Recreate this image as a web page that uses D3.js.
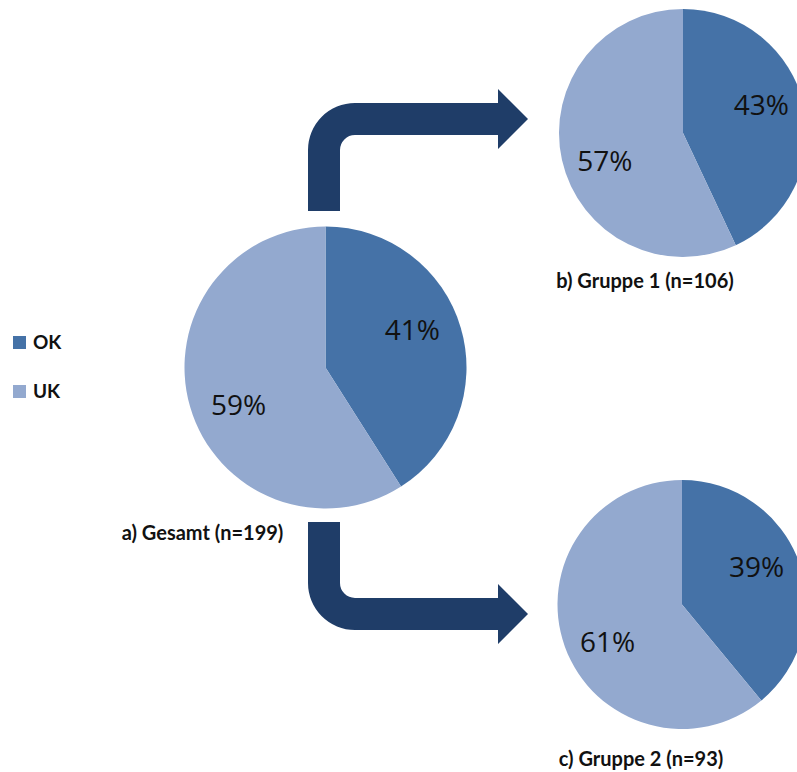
<!DOCTYPE html>
<html>
<head>
<meta charset="utf-8">
<script src="https://cdn.jsdelivr.net/npm/d3@7/dist/d3.min.js"></script>
<style>
  html, body { margin: 0; padding: 0; background: #ffffff; }
  svg { display: block; }
</style>
</head>
<body>
<svg id="chart" width="797" height="772"></svg>
<script>
// Categories and shares (percent) for each group
const categories = ["OK", "UK"];
const groupTitles = ["a) Gesamt (n=199)", "b) Gruppe 1 (n=106)", "c) Gruppe 2 (n=93)"];
const gesamtValues = [41, 59];
const gruppe1Values = [43, 57];
const gruppe2Values = [39, 61];

const colors = d3.scaleOrdinal().domain(categories).range(["#4572a7", "#93a9cf"]);
const arrowColor = "#1f3d68";
const labelFont = "'Open Sans', Lato, sans-serif";
const titleFont = "Lato, 'Open Sans', sans-serif";

const svg = d3.select("#chart");

// Pie placements: center, radius, title anchor
const pies = [
  { title: groupTitles[0], values: gesamtValues, cx: 325.5, cy: 367.5, r: 141, tx: 202.5, ty: 540 },
  { title: groupTitles[1], values: gruppe1Values, cx: 683, cy: 133, r: 124, tx: 645, ty: 288 },
  { title: groupTitles[2], values: gruppe2Values, cx: 682, cy: 604.5, r: 124.5, tx: 641, ty: 766 }
];

const pie = d3.pie().sort(null).value(d => d.value);

// Bent arrows leading from the overall pie to the two group pies
const main = pies[0];
const stemL = 308, stemW = 32, rIn = 15, rOut = rIn + stemW;
const headX = 498, tipX = 528, headHalf = 30;

function bentArrow(stemEndY, barCenterY, dir) {
  // dir = -1: stem goes up, then right; dir = +1: stem goes down, then right
  const p = d3.path();
  const stemR = stemL + stemW;
  const outerY = barCenterY + dir * stemW / 2;  // bar edge on the far side of the bend
  const innerY = barCenterY - dir * stemW / 2;  // bar edge on the near side of the bend
  p.moveTo(stemL, stemEndY);
  p.lineTo(stemL, outerY - dir * rOut);
  p.arcTo(stemL, outerY, stemL + rOut, outerY, rOut);
  p.lineTo(headX, outerY);
  p.lineTo(headX, barCenterY + dir * headHalf);
  p.lineTo(tipX, barCenterY);
  p.lineTo(headX, barCenterY - dir * headHalf);
  p.lineTo(headX, innerY);
  p.lineTo(stemR + rIn, innerY);
  p.arcTo(stemR, innerY, stemR, innerY - dir * rIn, rIn);
  p.lineTo(stemR, stemEndY);
  p.closePath();
  return p.toString();
}

svg.append("path")
  .attr("d", bentArrow(main.cy - main.r - 15.5, 119, -1))
  .attr("fill", arrowColor);
svg.append("path")
  .attr("d", bentArrow(main.cy + main.r + 13.5, 614, 1))
  .attr("fill", arrowColor);

// Pies
const labelTurn = -7 * Math.PI / 180; // labels sit slightly counter-clockwise of the slice middle
pies.forEach(p => {
  const data = categories.map((c, i) => ({ category: c, value: p.values[i] }));
  const arcs = pie(data);
  const arc = d3.arc().innerRadius(0).outerRadius(p.r);
  const labelArc = d3.arc().innerRadius(p.r * 0.67).outerRadius(p.r * 0.67);
  const g = svg.append("g").attr("transform", `translate(${p.cx},${p.cy})`);

  g.selectAll("path.slice")
    .data(arcs)
    .join("path")
    .attr("class", "slice")
    .attr("d", arc)
    .attr("fill", d => colors(d.data.category));

  g.selectAll("text.pct")
    .data(arcs)
    .join("text")
    .attr("class", "pct")
    .attr("transform", d => {
      const c = labelArc.centroid({ startAngle: d.startAngle + labelTurn, endAngle: d.endAngle + labelTurn });
      return `translate(${c})`;
    })
    .attr("text-anchor", "middle")
    .attr("dy", "0.36em")
    .attr("font-family", labelFont)
    .attr("font-size", 28)
    .attr("fill", "#111")
    .text(d => d.data.value + "%");

  svg.append("text")
    .attr("x", p.tx)
    .attr("y", p.ty)
    .attr("text-anchor", "middle")
    .attr("font-family", titleFont)
    .attr("font-weight", "bold")
    .attr("font-size", 20)
    .attr("fill", "#111")
    .text(p.title);
});

// Legend
const legend = svg.append("g").attr("transform", "translate(13,336)");
const legendItems = legend.selectAll("g")
  .data(categories)
  .join("g")
  .attr("transform", (d, i) => `translate(0,${i * 49})`);
legendItems.append("rect")
  .attr("width", 13).attr("height", 13)
  .attr("fill", d => colors(d));
legendItems.append("text")
  .attr("x", 20).attr("y", 13)
  .attr("font-family", titleFont)
  .attr("font-weight", "bold")
  .attr("font-size", 19)
  .attr("fill", "#111")
  .text(d => d);
</script>
</body>
</html>
